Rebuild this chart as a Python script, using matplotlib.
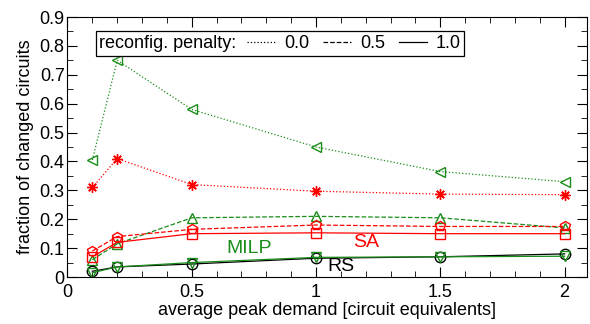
import matplotlib
matplotlib.use("Agg")
import matplotlib.pyplot as plt
from matplotlib.lines import Line2D
from matplotlib.offsetbox import HPacker

plt.rcParams['font.family'] = ['Liberation Sans', 'DejaVu Sans']
plt.rcParams['font.size'] = 13

demand = [0.1, 0.2, 0.5, 1.0, 1.5, 2.0]

milp_00 = [0.405, 0.75, 0.58, 0.45, 0.365, 0.33]
sa_00 = [0.31, 0.41, 0.32, 0.297, 0.287, 0.285]
milp_05 = [0.06, 0.115, 0.205, 0.21, 0.205, 0.17]
sa_05 = [0.09, 0.14, 0.165, 0.18, 0.175, 0.175]
sa_10 = [0.07, 0.12, 0.15, 0.153, 0.15, 0.15]
milp_10 = [0.015, 0.035, 0.05, 0.068, 0.07, 0.072]
rs_10 = [0.02, 0.035, 0.045, 0.065, 0.07, 0.08]

penalties = ['0.0', '0.5', '1.0']
green = '#1a8c1a'
red = '#ff0000'

fig = plt.figure(figsize=(5.9, 3.24), dpi=100)
ax = fig.add_axes([0.1144, 0.145, 0.8805, 0.8025])

mk = dict(markersize=7.5, markerfacecolor='none', linewidth=0.9)
ax.plot(demand, milp_00, ls=':', color=green, marker='<', markeredgecolor=green, **mk)
ax.plot(demand, sa_00, ls=':', color=red, marker=(8, 2, 0), markeredgecolor=red, **mk)
ax.plot(demand, milp_05, ls='--', color=green, marker='^', markeredgecolor=green, **mk)
ax.plot(demand, sa_05, ls='--', color=red, marker='p', markeredgecolor=red, **mk)
ax.plot(demand, sa_10, ls='-', color=red, marker='s', markeredgecolor=red, **mk)
ax.plot(demand, rs_10, ls='-', color='black', marker='o', markeredgecolor='black', **mk)
ax.plot(demand, milp_10, ls='-', color=green, marker='v', markeredgecolor=green, **mk)

ax.text(0.73, 0.10, 'MILP', color=green, ha='center', va='center', fontsize=14)
ax.text(1.2, 0.12, 'SA', color=red, ha='center', va='center', fontsize=14)
ax.text(1.1, 0.035, 'RS', color='black', ha='center', va='center', fontsize=14)

ax.set_xlim(0, 2.09)
ax.set_ylim(0, 0.9)
ax.set_xticks([0, 0.5, 1, 1.5, 2])
ax.set_xticklabels(['0', '0.5', '1', '1.5', '2'])
ax.set_yticks([i / 10 for i in range(10)])
ax.set_yticklabels(['0'] + ['%.1f' % (i / 10) for i in range(1, 10)])
ax.set_xticks([i / 10 for i in range(21)], minor=True)
ax.set_yticks([i / 20 for i in range(19)], minor=True)
ax.tick_params(which='both', direction='in', top=True, right=True)
ax.tick_params(axis='y', pad=2)
ax.tick_params(axis='x', pad=5)
ax.tick_params(which='major', length=7)
ax.tick_params(which='minor', length=4)
ax.set_xlabel('average peak demand [circuit equivalents]', labelpad=1)
ax.set_ylabel('fraction of changed circuits', labelpad=4)

handles = [Line2D([], [], color='black', ls=s, lw=0.9) for s in [':', '--', '-']]
leg = ax.legend(handles, penalties, ncol=3, loc='upper left', bbox_to_anchor=(0.054, 0.945),
                title='reconfig. penalty:', title_fontsize=13, fancybox=False,
                edgecolor='black', framealpha=1, handlelength=1.55, handletextpad=0.5,
                columnspacing=0.75, borderpad=0.2, borderaxespad=0)
leg.get_frame().set_linewidth(0.9)
old = leg._legend_box
new = HPacker(pad=old.pad, sep=8, align='center', children=old.get_children())
new.set_figure(fig)
new.axes = ax
new.set_offset(leg._findoffset)
leg._legend_box = new

fig.savefig('out.png', dpi=100)
